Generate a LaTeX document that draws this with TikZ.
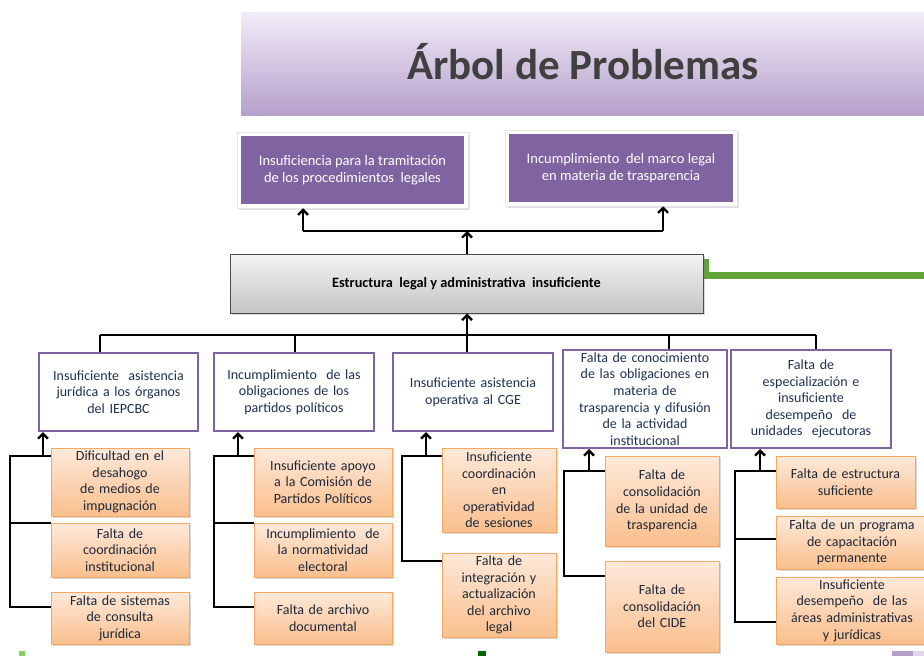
\documentclass[tikz,border=0pt]{standalone}
\usepackage{fontspec}
\setmainfont{Carlito}
\usetikzlibrary{arrows.meta,shadows}
\definecolor{purp}{HTML}{8064A2}
\definecolor{navy}{HTML}{1F3050}
\definecolor{subtxt}{HTML}{1E2838}
\definecolor{orTop}{HTML}{FDE9DA}
\definecolor{orBot}{HTML}{FABF8D}
\definecolor{orBorder}{HTML}{F7A860}
\definecolor{grTop}{HTML}{F4F4F4}
\definecolor{grBot}{HTML}{C4C4C4}
\definecolor{bnTop}{HTML}{F2ECF8}
\definecolor{bnBot}{HTML}{B6A0CB}
\definecolor{gline}{HTML}{62A339}
\tikzset{
  effect/.style={fill=purp, text=white, inner sep=0pt, font=\fontsize{14.5}{16.7}\selectfont, align=center},
  frame/.style={fill=white, draw=black!10, line width=0.5pt, drop shadow={shadow xshift=1.5pt, shadow yshift=-1.5pt, opacity=0.25}},
  mainbox/.style={draw=black!70, line width=1pt, top color=grTop, bottom color=grBot, inner sep=0pt, font=\bfseries\fontsize{14.3}{16}\selectfont, align=center, drop shadow={shadow xshift=2pt, shadow yshift=-2pt, opacity=0.3}},
  cause/.style={draw=purp, line width=2pt, fill=white, inner sep=0pt, text=navy, font=\fontsize{14}{16.6}\selectfont, align=center},
  subbox/.style={draw=orBorder, line width=0.8pt, top color=orTop, bottom color=orBot, inner sep=0pt, text=subtxt, font=\fontsize{14}{16.6}\selectfont, align=center, drop shadow={shadow xshift=1.5pt, shadow yshift=-1.5pt, opacity=0.3}},
  conn/.style={draw=black, line width=2.3pt},
  arr/.style={draw=black, line width=2.3pt, -{Straight Barb[length=5pt,width=10pt,line width=2.3pt]}},
}
\begin{document}
\begin{tikzpicture}[x=1pt,y=-1pt]
\useasboundingbox (0,0) rectangle (924,656);
\fill[white] (0,0) rectangle (924,656);
% banner
\shade[top color=bnTop, bottom color=bnBot] (241,12) rectangle (930,115);
\node[font=\bfseries\fontsize{43}{46}\selectfont, text=black!75] (title) at (583,62) {Árbol de Problemas};
% effects
\node[frame, minimum width=231pt, minimum height=76pt] (f1) at (352.5,170) {};
\node[effect, minimum width=223pt, minimum height=68pt] (e1) at (352.5,170) {Insuficiencia para la tramitación\\de los procedimientos\ \ legales};
\node[frame, minimum width=232pt, minimum height=76pt] (f2) at (621,168) {};
\node[effect, minimum width=224pt, minimum height=68pt] (e2) at (621,168) {Incumplimiento\ \ del marco legal\\en materia de trasparencia};
% green line
\coordinate (g0) at (705.5,259);
\coordinate (g1) at (705.5,275.5);
\coordinate (g2) at (930,275.5);
\draw[gline, line width=7pt] (g0) -- (g1) -- (g2);
% main
\node[mainbox, minimum width=473pt, minimum height=59pt] (main) at (466.5,283.5) {Estructura\ \ legal y administrativa\ \ insuficiente};
% top connectors
\coordinate (tl) at (303,231);
\coordinate (tr) at (663,231);
\coordinate (tm) at (467,231);
\draw[conn] (tl) -- (tr);
\draw[arr] (tl) -- (tl |- f1.south);
\draw[arr] (tr) -- (tr |- f2.south);
\draw[arr] (tm |- main.north) -- (tm);
% causes
\node[cause, minimum width=159pt, minimum height=78pt, text width=155pt] (c1) at (118.5,392) {Insuficiente\ \ asistencia\\jurídica a los órganos\\del IEPCBC};
\node[cause, minimum width=160pt, minimum height=78pt, text width=155pt] (c2) at (294,392) {Incumplimiento\ \ de las\\obligaciones de los\\partidos políticos};
\node[cause, minimum width=160pt, minimum height=78pt, text width=155pt] (c3) at (473,392) {Insuficiente asistencia\\operativa al CGE};
\node[cause, minimum width=164pt, minimum height=98pt, text width=162pt] (c4) at (645,399) {Falta de conocimiento\\de las obligaciones en\\materia de\\trasparencia y difusión\\de la actividad\\institucional};
\node[cause, minimum width=160pt, minimum height=98pt, text width=155pt] (c5) at (811,399) {Falta de\\especialización e\\insuficiente\\desempeño\ \ de\\unidades\ \ ejecutoras};
% bus
\coordinate (b1) at (100,335);
\coordinate (b2) at (295,335);
\coordinate (b3) at (467,335);
\coordinate (b4) at (669,335);
\coordinate (b5) at (816,335);
\draw[conn] (b1) -- (b5);
\draw[arr] (b3) -- (b3 |- main.south);
\draw[conn] (b1) -- (b1 |- c1.north);
\draw[conn] (b2) -- (b2 |- c2.north);
\draw[conn] (b3) -- (b3 |- c3.north);
\draw[conn] (b4) -- (b4 |- c4.north);
\draw[conn] (b5) -- (b5 |- c5.north);
% column 1
\node[subbox, minimum width=138pt, minimum height=68pt, text width=134pt] (s1a) at (120,482) {Dificultad en el\\desahogo\\de medios de\\impugnación};
\node[subbox, minimum width=138pt, minimum height=54pt, text width=134pt] (s1b) at (120,550) {Falta de\\coordinación\\institucional};
\node[subbox, minimum width=138pt, minimum height=52pt, text width=134pt] (s1c) at (120,618) {Falta de sistemas\\de consulta\\jurídica};
\coordinate (k1a) at (10,456);
\coordinate (k1b) at (10,523);
\coordinate (k1c) at (10,607);
\coordinate (a1) at (43,456);
\draw[conn] (k1a -| s1a.west) -- (k1a) -- (k1c) -- (k1c -| s1c.west);
\draw[conn] (k1b) -- (k1b -| s1b.west);
\draw[arr] (a1) -- (a1 |- c1.south);
% column 2
\node[subbox, minimum width=138pt, minimum height=68pt, text width=134pt] (s2a) at (323,482) {Insuficiente apoyo\\a la Comisión de\\Partidos Políticos};
\node[subbox, minimum width=138pt, minimum height=54pt, text width=134pt] (s2b) at (323,550) {Incumplimiento\ \ de\\la normatividad\\electoral};
\node[subbox, minimum width=138pt, minimum height=52pt, text width=134pt] (s2c) at (323,618) {Falta de archivo\\documental};
\coordinate (k2a) at (214,456);
\coordinate (k2b) at (214,523);
\coordinate (k2c) at (214,607);
\coordinate (a2) at (238,456);
\draw[conn] (k2a -| s2a.west) -- (k2a) -- (k2c) -- (k2c -| s2c.west);
\draw[conn] (k2b) -- (k2b -| s2b.west);
\draw[arr] (a2) -- (a2 |- c2.south);
% column 3
\node[subbox, minimum width=114pt, minimum height=84pt, text width=112pt] (s3a) at (499,490) {Insuficiente\\coordinación\\en\\operatividad\\de sesiones};
\node[subbox, minimum width=114pt, minimum height=84pt, text width=112pt] (s3b) at (499,595) {Falta de\\integración y\\actualización\\del archivo\\legal};
\coordinate (k3a) at (402,456);
\coordinate (k3b) at (402,561);
\coordinate (a3) at (426,456);
\draw[conn] (k3a -| s3a.west) -- (k3a) -- (k3b) -- (k3b -| s3b.west);
\draw[arr] (a3) -- (a3 |- c3.south);
% column 4
\node[subbox, minimum width=114pt, minimum height=90pt, text width=112pt] (s4a) at (662,501) {Falta de\\consolidación\\de la unidad de\\trasparencia};
\node[subbox, minimum width=114pt, minimum height=91pt, text width=112pt] (s4b) at (662,606.5) {Falta de\\consolidación\\del CIDE};
\coordinate (k4a) at (564,471);
\coordinate (k4b) at (564,576);
\coordinate (a4) at (589,471);
\draw[conn] (k4a -| s4a.west) -- (k4a) -- (k4b) -- (k4b -| s4b.west);
\draw[arr] (a4) -- (a4 |- c4.south);
% column 5
\node[subbox, minimum width=139pt, minimum height=52pt, text width=135pt] (s5a) at (845.5,482) {Falta de estructura\\suficiente};
\node[subbox, minimum width=152pt, minimum height=53pt, text width=148pt] (s5b) at (852,542.5) {Falta de un programa\\de capacitación\\permanente};
\node[subbox, minimum width=152pt, minimum height=67pt, text width=148pt] (s5c) at (852,610.5) {Insuficiente\\desempeño\ \ de las\\áreas administrativas\\y jurídicas};
\coordinate (k5a) at (735,471);
\coordinate (k5b) at (735,539);
\coordinate (k5c) at (735,622);
\coordinate (a5) at (760,471);
\draw[conn] (k5a -| s5a.west) -- (k5a) -- (k5c) -- (k5c -| s5c.west);
\draw[conn] (k5b) -- (k5b -| s5b.west);
\draw[arr] (a5) -- (a5 |- c5.south);
% bottom slide marks
\fill[green!60!lime!70!black!60] (19,651) rectangle (25,656);
\fill[green!40!black] (478,651) rectangle (486,656);
\fill[bnBot] (892,651) rectangle (913,656);
\fill[bnTop!70!bnBot] (913,651) rectangle (924,656);
\end{tikzpicture}
\end{document}
